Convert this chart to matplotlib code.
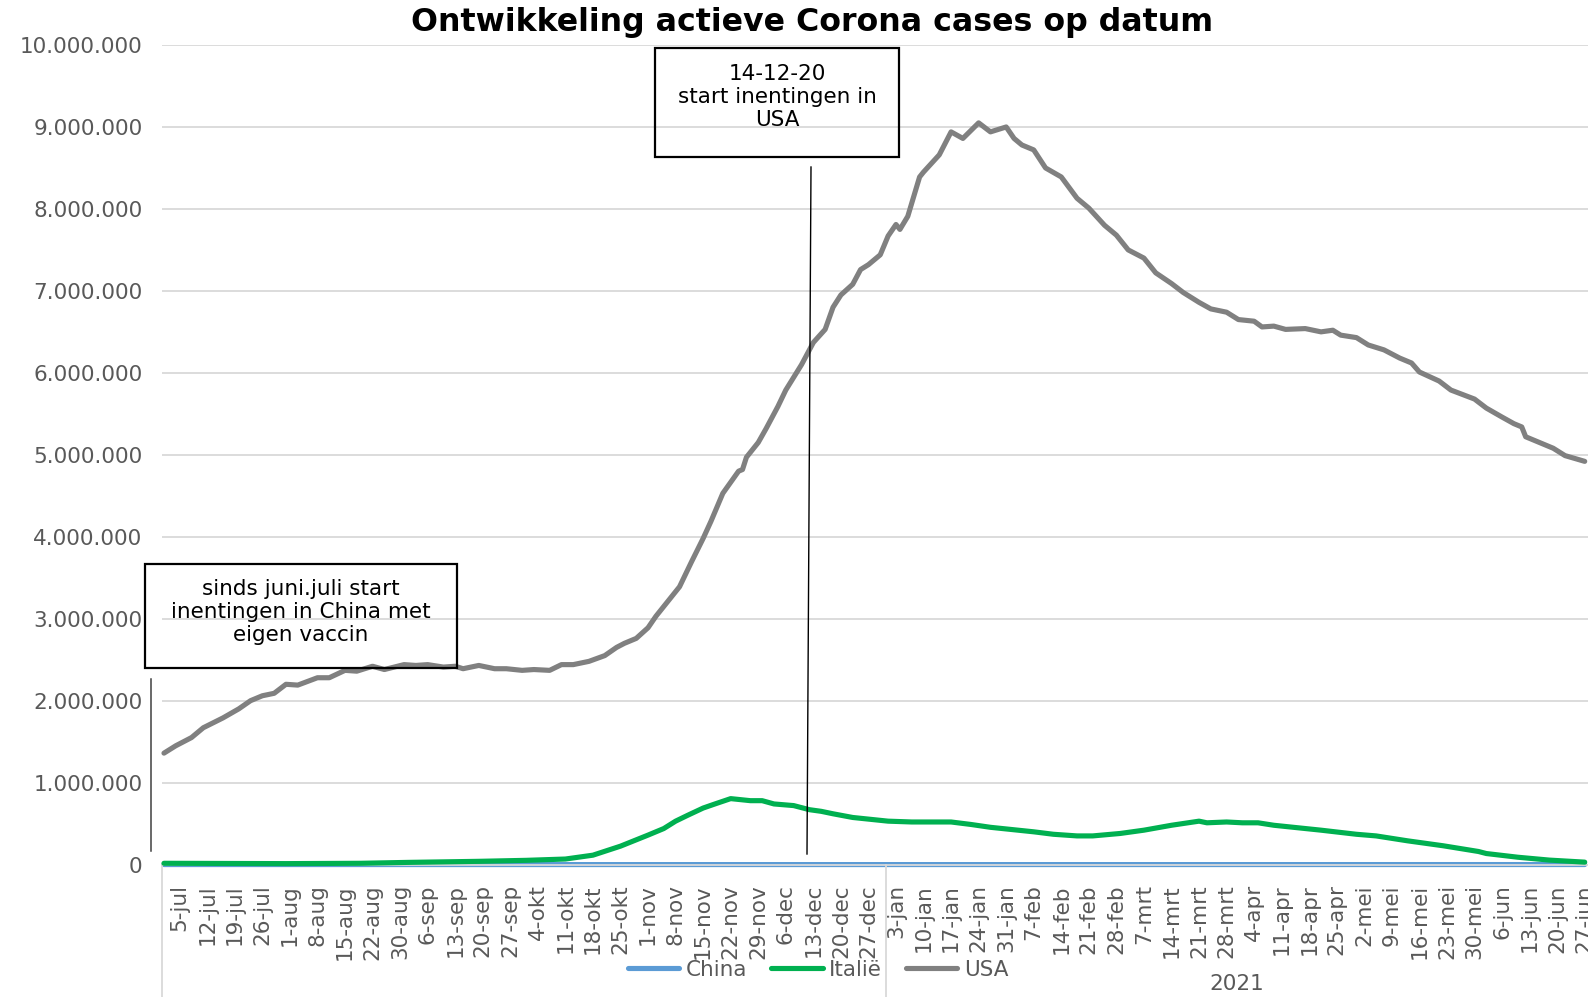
import matplotlib
matplotlib.use("Agg")
import matplotlib.pyplot as plt
from matplotlib.lines import Line2D
from matplotlib.patches import Rectangle
import matplotlib.transforms as mtransforms
from matplotlib.ticker import FuncFormatter, MultipleLocator

plt.rcParams['font.family'] = ['DejaVu Sans']

# ---------------- data (category index 0 = 1-jul-2020, one per day) -------------
tick_labels = ["5-jul", "12-jul", "19-jul", "26-jul", "1-aug", "8-aug", "15-aug", "22-aug",
               "30-aug", "6-sep", "13-sep", "20-sep", "27-sep", "4-okt", "11-okt", "18-okt",
               "25-okt", "1-nov", "8-nov", "15-nov", "22-nov", "29-nov", "6-dec", "13-dec",
               "20-dec", "27-dec", "3-jan", "10-jan", "17-jan", "24-jan", "31-jan", "7-feb",
               "14-feb", "21-feb", "28-feb", "7-mrt", "14-mrt", "21-mrt", "28-mrt", "4-apr",
               "11-apr", "18-apr", "25-apr", "2-mei", "9-mei", "16-mei", "23-mei", "30-mei",
               "6-jun", "13-jun", "20-jun", "27-jun"]
first_tick_index = 4
tick_step = 7
n_categories = 362
year_2021_start = 184
year_label = "2021"

usa_idx = [0, 3, 7, 10, 15, 19, 22, 25, 28, 31, 34, 39, 42, 46, 49, 53, 56, 61, 64, 67,
           71, 74, 76, 80, 84, 87, 91, 94, 98, 101, 104, 108, 112, 115, 117, 120, 123, 125,
           131, 134, 137, 139, 142, 146, 147, 148, 151, 153, 156, 158, 162, 165, 168, 170,
           172, 175, 177, 179, 182, 184, 186, 187, 189, 192, 193, 197, 200, 203, 207, 210,
           214, 216, 218, 221, 224, 228, 232, 235, 239, 242, 245, 249, 252, 256, 259, 263,
           266, 270, 273, 277, 279, 282, 285, 290, 294, 297, 299, 303, 306, 310, 314, 317,
           319, 324, 327, 333, 336, 340, 343, 345, 346, 350, 353, 356, 361]
usa_mln = [1.36, 1.45, 1.55, 1.67, 1.79, 1.90, 2.00, 2.06, 2.09, 2.20, 2.19, 2.28, 2.28, 2.37,
           2.36, 2.42, 2.38, 2.44, 2.43, 2.44, 2.41, 2.42, 2.39, 2.43, 2.39, 2.39, 2.37, 2.38,
           2.37, 2.44, 2.44, 2.48, 2.55, 2.65, 2.70, 2.76, 2.89, 3.03, 3.39, 3.69, 3.98, 4.19,
           4.53, 4.80, 4.82, 4.97, 5.15, 5.32, 5.59, 5.79, 6.10, 6.37, 6.53, 6.80, 6.95, 7.08,
           7.26, 7.32, 7.44, 7.67, 7.81, 7.75, 7.91, 8.39, 8.45, 8.66, 8.94, 8.86, 9.05, 8.94,
           9.00, 8.86, 8.78, 8.72, 8.50, 8.39, 8.13, 8.01, 7.80, 7.68, 7.50, 7.40, 7.22, 7.09,
           6.98, 6.86, 6.78, 6.74, 6.65, 6.63, 6.56, 6.57, 6.53, 6.54, 6.50, 6.52, 6.46, 6.43,
           6.34, 6.28, 6.18, 6.12, 6.01, 5.90, 5.79, 5.68, 5.57, 5.46, 5.38, 5.34, 5.22, 5.14,
           5.08, 4.99, 4.92]

italy_idx = [0, 31, 50, 62, 80, 92, 102, 109, 116, 123, 127, 130, 133, 137, 140, 144, 149,
             152, 155, 160, 164, 167, 170, 175, 180, 184, 190, 196, 200, 205, 210, 221, 226,
             232, 236, 243, 249, 256, 263, 265, 270, 274, 278, 282, 290, 294, 303, 308, 316,
             325, 334, 336, 344, 352, 361]
italy_mln = [0.016, 0.012, 0.016, 0.027, 0.040, 0.052, 0.068, 0.115, 0.225, 0.36, 0.44, 0.53,
             0.60, 0.69, 0.74, 0.805, 0.78, 0.78, 0.74, 0.72, 0.67, 0.65, 0.62, 0.575, 0.55,
             0.53, 0.52, 0.52, 0.52, 0.49, 0.455, 0.40, 0.37, 0.35, 0.35, 0.38, 0.42, 0.48,
             0.53, 0.51, 0.52, 0.51, 0.51, 0.48, 0.44, 0.42, 0.37, 0.35, 0.29, 0.23, 0.16,
             0.135, 0.09, 0.055, 0.03]

china_idx = [0, 90, 180, 270, 361]
china_mln = [0.0004, 0.0002, 0.0003, 0.0003, 0.0006]

series_names = ["China", "Italië", "USA"]
series_colors = ["#5B9BD5", "#00B050", "#808080"]

title = "Ontwikkeling actieve Corona cases op datum"
note_china = "sinds juni.juli start\ninentingen in China met\neigen vaccin"
note_usa = "14-12-20\nstart inentingen in\nUSA"

# ---------------- figure ----------------
W, H = 1588, 997
fig = plt.figure(figsize=(W / 100, H / 100), dpi=100)
fig.patch.set_facecolor("white")

def fx(x):
    return x / W

def fy(y):
    return 1 - y / H

ax_left, ax_right, ax_top, ax_bottom = 162, 1588, 45.0, 864.6
ax = fig.add_axes([fx(ax_left), fy(ax_bottom), (ax_right - ax_left) / W, (ax_bottom - ax_top) / H])
px_per_cat = 3.9356
ax.set_xlim(-0.5, -0.5 + (ax_right - ax_left) / px_per_cat)
ax.set_ylim(0, 10_000_000)

grey_txt = "#595959"
lw_series = 3.7
for idx, vals, name, col, z in [(china_idx, china_mln, series_names[0], series_colors[0], 2),
                                (italy_idx, italy_mln, series_names[1], series_colors[1], 3),
                                (usa_idx, usa_mln, series_names[2], series_colors[2], 4)]:
    ax.plot(idx, [v * 1e6 for v in vals], color=col, lw=lw_series, zorder=z,
            solid_joinstyle="round", solid_capstyle="round", label=name, clip_on=False)

ax.yaxis.set_major_locator(MultipleLocator(1_000_000))
ax.yaxis.set_major_formatter(FuncFormatter(lambda v, p: f"{int(round(v)):,}".replace(",", ".")))
ax.yaxis.grid(True, color="#D9D9D9", lw=1.3)
ax.set_axisbelow(True)

ticks = [first_tick_index + tick_step * k for k in range(len(tick_labels))]
ax.set_xticks(ticks)
ax.set_xticklabels(tick_labels, rotation=90, ha="center", va="top")
ax.tick_params(axis="x", length=0, pad=14, labelsize=15.5, labelcolor=grey_txt)
ax.tick_params(axis="y", length=0, pad=14, labelsize=15.5, labelcolor=grey_txt)
for s in ["top", "right", "left"]:
    ax.spines[s].set_visible(False)
ax.spines["bottom"].set_color("#D9D9D9")
ax.spines["bottom"].set_linewidth(1.3)

# multi-level category separators
trans = mtransforms.blended_transform_factory(ax.transData, ax.transAxes)
for xs in [-0.5, year_2021_start - 0.5]:
    ax.plot([xs, xs], [0, -0.2], transform=trans, clip_on=False, color="#D9D9D9", lw=1.3)
ax.text((year_2021_start - 0.5 + n_categories - 0.5) / 2, -(984.5 - ax_bottom) / (ax_bottom - ax_top),
        year_label, transform=trans, ha="center", va="center", fontsize=15.5, color=grey_txt)

# title
fig.text(fx(812), fy(23), title, ha="center", va="center", fontsize=22.8, fontweight="bold",
         color="black")

# annotation boxes
def box(x0, y0, x1, y1):
    fig.patches.append(Rectangle((fx(x0), fy(y1)), (x1 - x0) / W, (y1 - y0) / H,
                                 transform=fig.transFigure, fill=False, edgecolor="black",
                                 lw=1.6, zorder=10))

box(145, 564, 457, 668)
fig.text(fx(301), fy(612), note_china, ha="center", va="center", fontsize=15.5,
         color="black", linespacing=1.18, zorder=11)
fig.lines.append(Line2D([fx(151), fx(151)], [fy(679), fy(851)], transform=fig.transFigure,
                        color="#404040", lw=1.1, zorder=10))

box(655, 48, 899, 157)
fig.text(fx(777), fy(97), note_usa, ha="center", va="center", fontsize=15.5,
         color="black", linespacing=1.18, zorder=11)
fig.lines.append(Line2D([fx(811), fx(807)], [fy(167), fy(854)], transform=fig.transFigure,
                        color="black", lw=1.0, zorder=10))

# legend
handles = [Line2D([0], [0], color=c, lw=lw_series, solid_capstyle="round") for c in series_colors]
leg = fig.legend(handles, series_names, loc="center", bbox_to_anchor=(fx(818), fy(970)),
                 ncol=3, frameon=False, fontsize=15.5, handlelength=2.4, handletextpad=0.3,
                 columnspacing=1.1, borderpad=0, borderaxespad=0)
for t in leg.get_texts():
    t.set_color(grey_txt)

fig.savefig("out.png", dpi=100, facecolor="white")
